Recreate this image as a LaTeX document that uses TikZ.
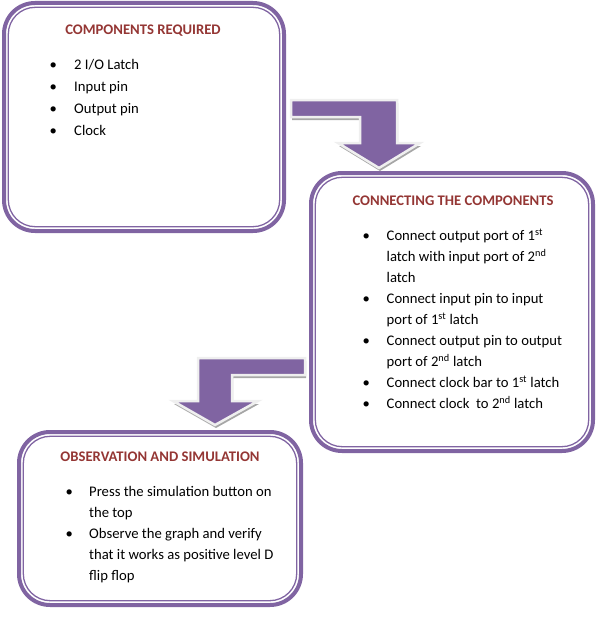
\documentclass[tikz,border=0pt]{standalone}
\usepackage{fontspec}
\setmainfont{Carlito}

\definecolor{boxpurple}{HTML}{8064A2}
\definecolor{headred}{HTML}{943634}
\definecolor{arrowrim}{HTML}{EFEFEF}
\definecolor{arrowshade}{HTML}{A6A6A6}

\begin{document}
\begin{tikzpicture}[x=1pt,y=-1pt,
  panel/.style={draw=boxpurple, line width=4pt, rounded corners=31pt, outer sep=0pt, inner sep=0pt},
  panelin/.style={draw=boxpurple, line width=1.3pt, rounded corners=27pt},
  heading/.style={anchor=base, inner sep=0pt, text=headred, font=\bfseries\fontsize{14.67}{21}\selectfont},
  list/.style={anchor=north west, inner sep=0pt, font=\fontsize{14.67}{21}\selectfont},
  bentarrow/.style={fill=boxpurple, draw=arrowrim, line width=2.5pt, line join=miter},
  arrowshadow/.style={fill=arrowshade}]
\useasboundingbox (0,0) rectangle (608,618);

% the three panels
\node[panel, minimum width=280pt, minimum height=228pt] (req) at (144,117) {};
\draw[panelin] ([shift={(4.3pt,-4.3pt)}]req.north west) rectangle ([shift={(-4.3pt,4.3pt)}]req.south east);

\node[panel, minimum width=282pt, minimum height=278pt] (con) at (452,312) {};
\draw[panelin] ([shift={(4.3pt,-4.3pt)}]con.north west) rectangle ([shift={(-4.3pt,4.3pt)}]con.south east);

\node[panel, minimum width=282pt, minimum height=173pt] (obs) at (160,518.5) {};
\draw[panelin] ([shift={(4.3pt,-4.3pt)}]obs.north west) rectangle ([shift={(-4.3pt,4.3pt)}]obs.south east);

% titles
\node[heading] (reqtitle) at (143,35) {COMPONENTS REQUIRED};
\node[heading] (contitle) at (453,205) {CONNECTING THE COMPONENTS};
\node[heading] (obstitle) at (160,461) {OBSERVATION AND SIMULATION};

% bullet lists
\node[list] (reqlist) at (49.5,53.5) {\renewcommand\arraystretch{1.05}\begin{tabular}{@{}p{24.5pt}@{}l@{}}
\textbullet & 2 I/O Latch\\
\textbullet & Input pin\\
\textbullet & Output pin\\
\textbullet & Clock
\end{tabular}};

\node[list] (conlist) at (362.5,226) {\begin{tabular}{@{}p{24pt}@{}l@{}}
\textbullet & Connect output port of 1\textsuperscript{st}\\
 & latch with input port of 2\textsuperscript{nd}\\
 & latch\\
\textbullet & Connect input pin to input\\
 & port of 1\textsuperscript{st} latch\\
\textbullet & Connect output pin to output\\
 & port of 2\textsuperscript{nd} latch\\
\textbullet & Connect clock bar to 1\textsuperscript{st} latch\\
\textbullet & Connect clock\ \ to 2\textsuperscript{nd} latch
\end{tabular}};

\node[list] (obslist) at (65.5,482) {\begin{tabular}{@{}p{23.5pt}@{}l@{}}
\textbullet & Press the simulation button on\\
 & the top\\
\textbullet & Observe the graph and verify\\
 & that it works as positive level D\\
 & flip flop
\end{tabular}};

% bent arrows
\fill[arrowshadow] (292,103) -- (398,103) -- (398,146) -- (421,146) -- (380,171) -- (339,146) -- (361,146) -- (361,120) -- (292,120) -- cycle;
\draw[bentarrow] (291,100) -- (397,100) -- (397,143) -- (420,143) -- (379,168) -- (338,143) -- (360,143) -- (360,117) -- (291,117) -- cycle;

\fill[arrowshadow] (306,361) -- (306,378) -- (233,378) -- (233,404) -- (259,404) -- (216,428) -- (174,404) -- (199,404) -- (199,361) -- cycle;
\draw[bentarrow] (305,358) -- (305,375) -- (232,375) -- (232,401) -- (258,401) -- (215,425) -- (173,401) -- (198,401) -- (198,358) -- cycle;

\end{tikzpicture}
\end{document}
